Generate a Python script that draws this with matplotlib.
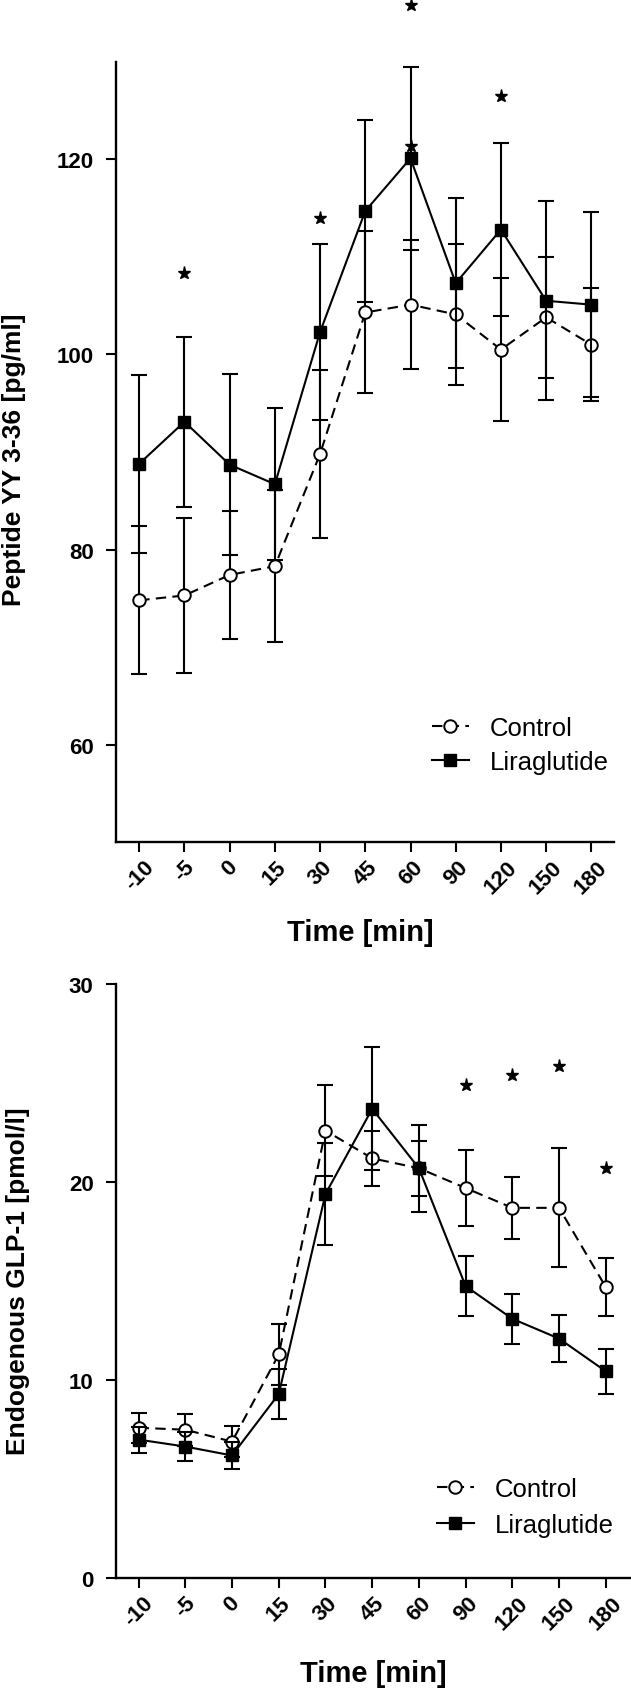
import matplotlib
matplotlib.use("Agg")
import matplotlib.pyplot as plt

plt.rcParams["font.family"] = ["Liberation Sans", "DejaVu Sans"]

# x categories (minutes)
time_labels = ["-10", "-5", "0", "15", "30", "45", "60", "90", "120", "150", "180"]

# Peptide YY 3-36 [pg/ml], mean and SE
pyy_control = [74.8, 75.3, 77.4, 78.3, 89.8, 104.3, 105.1, 104.1, 100.5, 103.8, 101.0]
pyy_control_se = [7.6, 7.9, 6.6, 7.8, 8.6, 8.3, 6.6, 7.2, 7.3, 6.2, 5.8]
pyy_lira = [88.8, 93.1, 88.7, 86.7, 102.3, 114.7, 120.1, 107.3, 112.8, 105.5, 105.1]
pyy_lira_se = [9.1, 8.7, 9.3, 7.8, 9.0, 9.3, 9.4, 8.7, 8.9, 10.2, 9.5]
pyy_star_idx = [1, 4, 6, 8, 6]
pyy_star_y = [108.3, 114.0, 135.8, 126.5, 121.4]

# Endogenous GLP-1 [pmol/l], mean and SE
glp_control = [7.6, 7.5, 6.9, 11.3, 22.6, 21.2, 20.7, 19.7, 18.7, 18.7, 14.7]
glp_control_se = [0.75, 0.8, 0.8, 1.55, 2.3, 1.4, 1.4, 1.9, 1.55, 3.0, 1.45]
glp_lira = [7.0, 6.65, 6.2, 9.3, 19.4, 23.7, 20.7, 14.75, 13.1, 12.1, 10.45]
glp_lira_se = [0.65, 0.75, 0.7, 1.25, 2.55, 3.1, 2.2, 1.5, 1.25, 1.2, 1.15]
glp_star_idx = [7, 8, 9, 10]
glp_star_y = [24.9, 25.4, 25.85, 20.7]

x = list(range(len(time_labels)))


def draw_panel(ax, ctrl, ctrl_se, lira, lira_se, star_idx, star_y):
    ax.errorbar(x, ctrl, yerr=ctrl_se, fmt="none", ecolor="black",
                elinewidth=1.5, capsize=5.5, capthick=1.5, zorder=2)
    ax.plot(x, ctrl, color="black", lw=1.5, ls=(0, (5, 3)), marker="o",
            ms=9, mfc="white", mec="black", mew=1.4, label="Control", zorder=3)
    ax.errorbar(x, lira, yerr=lira_se, fmt="none", ecolor="black",
                elinewidth=1.5, capsize=5.5, capthick=1.5, zorder=4)
    ax.plot(x, lira, color="black", lw=1.5, marker="s", ms=8,
            mfc="black", mec="black", label="Liraglutide", zorder=5)
    sx = [x[i] for i in star_idx]
    ax.plot(sx, star_y, ls="none", marker="*", ms=9.5, color="black",
            clip_on=False, zorder=6)

    ax.set_xticks(x)
    ax.set_xticklabels(time_labels, rotation=45, ha="center")
    for side in ("top", "right"):
        ax.spines[side].set_visible(False)
    for side in ("left", "bottom"):
        ax.spines[side].set_linewidth(1.7)
    ax.tick_params(axis="both", direction="out", length=7, width=1.5,
                   labelsize=16)
    ax.tick_params(axis="y", pad=9)
    ax.tick_params(axis="x", pad=3)
    for lab in ax.get_xticklabels() + ax.get_yticklabels():
        lab.set_fontweight("bold")


fig = plt.figure(figsize=(6.31, 16.9), dpi=100)

# top panel: PYY
ax1 = fig.add_axes([0.1834, 0.501, 0.973 - 0.1834, 0.9629 - 0.501])
draw_panel(ax1, pyy_control, pyy_control_se, pyy_lira, pyy_lira_se,
           pyy_star_idx, pyy_star_y)
ax1.set_xlim(-0.52, 10.50)
ax1.set_ylim(50, 130)
ax1.set_yticks([60, 80, 100, 120])
ax1.set_ylabel("Peptide YY 3-36 [pg/ml]", fontsize=19, fontweight="bold", va="center")
ax1.yaxis.set_label_coords(-0.205, 0.491)
ax1.set_xlabel("Time [min]", fontsize=21, fontweight="bold")
ax1.xaxis.set_label_coords(0.49, -0.097)
ax1.legend(loc="center left", bbox_to_anchor=(0.684, 0.5585),
           bbox_transform=fig.transFigure, frameon=False, fontsize=18.5,
           borderpad=0, borderaxespad=0, handlelength=1.45,
           handletextpad=0.8, labelspacing=0.4, numpoints=1)

# bottom panel: GLP-1
ax2 = fig.add_axes([0.1834, 0.0655, 1.0 - 0.1834, 0.41716 - 0.0655])
draw_panel(ax2, glp_control, glp_control_se, glp_lira, glp_lira_se,
           glp_star_idx, glp_star_y)
ax2.set_xlim(-0.49, 10.54)
ax2.set_ylim(0, 30)
ax2.set_yticks([0, 10, 20, 30])
ax2.set_ylabel("Endogenous GLP-1 [pmol/l]", fontsize=19, fontweight="bold", va="center")
ax2.yaxis.set_label_coords(-0.19, 0.501)
ax2.set_xlabel("Time [min]", fontsize=21, fontweight="bold")
ax2.xaxis.set_label_coords(0.5, -0.136)
ax2.legend(loc="center left", bbox_to_anchor=(0.692, 0.1077),
           bbox_transform=fig.transFigure, frameon=False, fontsize=18.5,
           borderpad=0, borderaxespad=0, handlelength=1.45,
           handletextpad=0.8, labelspacing=0.45, numpoints=1)

fig.savefig("out.png", dpi=100)
